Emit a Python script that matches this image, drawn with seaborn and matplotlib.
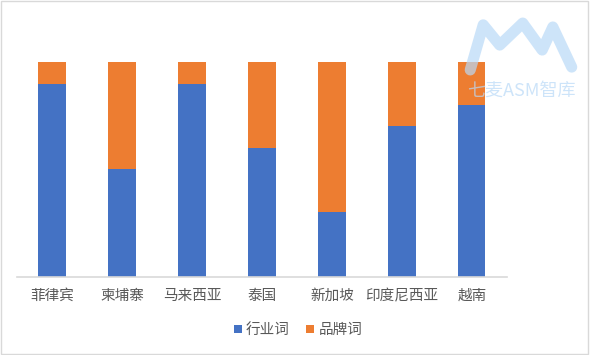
import matplotlib
matplotlib.use("Agg")
import matplotlib.pyplot as plt
import seaborn as sns
import pandas as pd
from matplotlib.patches import Rectangle

# data (share of each keyword type)
countries = ['菲律宾', '柬埔寨', '马来西亚', '泰国', '新加坡', '印度尼西亚', '越南']
industry = [0.90, 0.50, 0.90, 0.60, 0.30, 0.70, 0.80]
brand = [0.10, 0.50, 0.10, 0.40, 0.70, 0.30, 0.20]

df = pd.DataFrame({'country': countries, 'industry': industry, 'brand': brand})
df['total'] = df['industry'] + df['brand']

sns.set_theme(style="white")
plt.rcParams['font.family'] = ['Noto Sans CJK SC', 'DejaVu Sans']

blue = '#4472C4'
orange = '#ED7D31'
grey = '#595959'

fig = plt.figure(figsize=(5.9, 3.55), dpi=100)
ax = fig.add_axes([0.029, 0.221, 0.83, 0.604])

# stacked: full bar in orange, industry share in blue on top of it
sns.barplot(data=df, x='country', y='total', color=orange, width=0.39,
            saturation=1, linewidth=0, ax=ax, label='品牌词')
sns.barplot(data=df, x='country', y='industry', color=blue, width=0.39,
            saturation=1, linewidth=0, ax=ax, label='行业词')

ax.set_ylim(0, 1)
ax.set_xlim(-0.5, len(countries) - 0.5)
ax.set_xlabel('')
ax.set_ylabel('')
ax.set_yticks([])
for s in ['top', 'right', 'left']:
    ax.spines[s].set_visible(False)
ax.spines['bottom'].set_color('#D9D9D9')
ax.spines['bottom'].set_linewidth(1.2)
ax.tick_params(axis='x', length=0, pad=9, labelsize=10.5, labelcolor=grey)

handles, labels = ax.get_legend_handles_labels()
if ax.get_legend() is not None:
    ax.get_legend().remove()
order = [labels.index('行业词'), labels.index('品牌词')]
fig.legend([handles[i] for i in order], [labels[i] for i in order],
           loc='center', bbox_to_anchor=(0.505, 0.07), ncol=2, frameon=False,
           fontsize=10.5, labelcolor=grey, handlelength=0.55, handleheight=0.55,
           handletextpad=0.3, columnspacing=1.1)

# watermark
wm = '#B9D9F7'
fig.lines.append(plt.Line2D([0.797, 0.819, 0.847, 0.886, 0.919, 0.937, 0.969],
                            [0.803, 0.930, 0.873, 0.935, 0.859, 0.924, 0.811],
                            transform=fig.transFigure, color=wm, alpha=0.7,
                            lw=8, solid_capstyle='round', solid_joinstyle='round'))
fig.text(0.883, 0.745, '七麦ASM智库', color=wm, alpha=0.7, fontsize=13,
         ha='center', va='center')

# outer frame
fig.patches.append(Rectangle((0.002, 0.003), 0.995, 0.994, transform=fig.transFigure,
                             fill=False, edgecolor='#D9D9D9', lw=1))

fig.savefig('out.png', dpi=100)
